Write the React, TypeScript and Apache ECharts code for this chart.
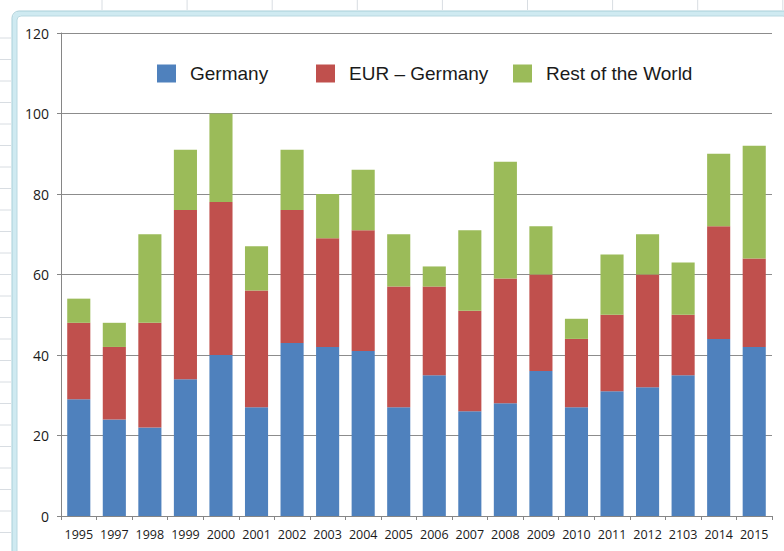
import React, { useEffect, useRef } from "react";
import * as echarts from "echarts";

const categories = ["1995", "1997", "1998", "1999", "2000", "2001", "2002", "2003", "2004", "2005", "2006", "2007", "2008", "2009", "2010", "2011", "2012", "2103", "2014", "2015"];
const germany = [29, 24, 22, 34, 40, 27, 43, 42, 41, 27, 35, 26, 28, 36, 27, 31, 32, 35, 44, 42];
const eurGermany = [19, 18, 26, 42, 38, 29, 33, 27, 30, 30, 22, 25, 31, 24, 17, 19, 28, 15, 28, 22];
const restOfWorld = [6, 6, 22, 15, 22, 11, 15, 11, 15, 13, 5, 20, 29, 12, 5, 15, 10, 13, 18, 28];
const seriesNames = ["Germany", "EUR – Germany", "Rest of the World"];
const colors = ["#4F81BD", "#C0504D", "#9BBB59"];

export default function App() {
  const ref = useRef<HTMLDivElement>(null);
  useEffect(() => {
    if (!ref.current) return;
    const chart = echarts.init(ref.current, null, { renderer: "svg" });
    const sheetLines: any[] = [];
    for (let y = 38; y < 551; y += 21.5) {
      sheetLines.push({ type: "line", shape: { x1: 0, y1: y, x2: 11, y2: y }, style: { stroke: "#d8dde2", lineWidth: 1 }, z: 0 });
    }
    for (let x = 102; x < 784; x += 85.1) {
      sheetLines.push({ type: "line", shape: { x1: x, y1: 0, x2: x, y2: 10 }, style: { stroke: "#d8dde2", lineWidth: 1 }, z: 0 });
    }
    const legendCommon = {
      orient: "horizontal",
      top: 64,
      itemWidth: 19,
      itemHeight: 18,
      itemGap: 14,
      icon: "rect",
      textStyle: { fontFamily: "Liberation Sans", fontSize: 19, color: "#1a1a1a", padding: [0, 0, 0, 9] },
      padding: 0,
    };
    chart.setOption({
      animation: false,
      backgroundColor: "#ffffff",
      color: colors,
      graphic: [
        ...sheetLines,
        {
          type: "rect",
          shape: { x: 14.5, y: 13.5, width: 775, height: 545, r: 6 },
          style: { fill: "none", stroke: "#cfeaf1", lineWidth: 5 },
          z: 1,
        },
        {
          type: "rect",
          shape: { x: 12, y: 11, width: 780, height: 550, r: 7 },
          style: { fill: "none", stroke: "#a9cfd9", lineWidth: 1 },
          z: 1,
        },
        {
          type: "rect",
          shape: { x: 17, y: 16, width: 770, height: 540, r: 4 },
          style: { fill: "none", stroke: "#b9d9e1", lineWidth: 1 },
          z: 1,
        },
      ],
      legend: [
        { ...legendCommon, left: 157, data: [seriesNames[0]] },
        { ...legendCommon, left: 316, data: [seriesNames[1]] },
        { ...legendCommon, left: 513, data: [seriesNames[2]] },
      ],
      grid: { left: 61, right: 12, top: 33, bottom: 35, containLabel: false },
      xAxis: {
        type: "category",
        data: categories,
        axisLine: { lineStyle: { color: "#868686", width: 1 } },
        axisTick: { show: true, length: 4, lineStyle: { color: "#868686" } },
        axisLabel: { fontFamily: "Open Sans", fontSize: 12.5, color: "#1a1a1a", margin: 12, interval: 0 },
      },
      yAxis: {
        type: "value",
        min: 0,
        max: 120,
        interval: 20,
        axisLine: { show: true, lineStyle: { color: "#868686", width: 1 } },
        axisTick: { show: true, length: 4, lineStyle: { color: "#868686" } },
        axisLabel: { fontFamily: "Open Sans", fontSize: 14, color: "#1a1a1a", margin: 12 },
        splitLine: { lineStyle: { color: "#8c8c8c", width: 1 } },
      },
      series: [
        { name: seriesNames[0], type: "bar", stack: "total", data: germany, barWidth: "65%", itemStyle: { color: colors[0] } },
        { name: seriesNames[1], type: "bar", stack: "total", data: eurGermany, barWidth: "65%", itemStyle: { color: colors[1] } },
        { name: seriesNames[2], type: "bar", stack: "total", data: restOfWorld, barWidth: "65%", itemStyle: { color: colors[2] } },
      ],
    });
    return () => chart.dispose();
  }, []);
  return <div ref={ref} style={{ position: "fixed", left: 0, top: 0, width: 784, height: 551 }} />;
}
